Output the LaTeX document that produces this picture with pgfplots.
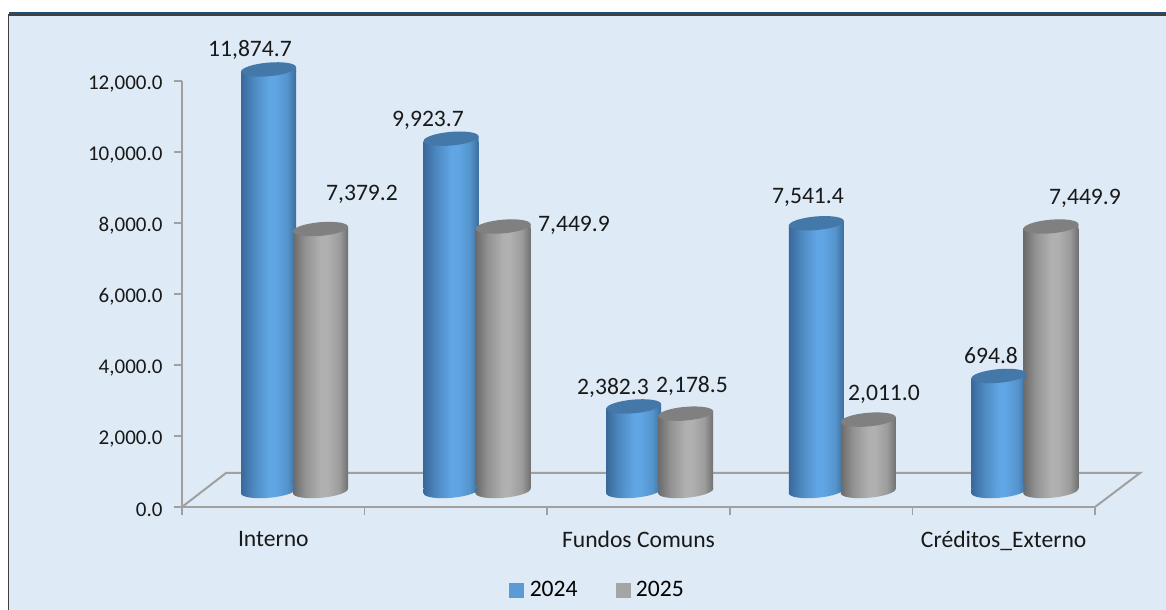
\documentclass[border=0pt]{standalone}
\usepackage{pgfplots}
\pgfplotsset{compat=1.18}
\usepackage{fontspec}
\setmainfont{Carlito}
\definecolor{panel}{HTML}{DEEAF6}
\definecolor{axisgray}{HTML}{A0A0A0}
\definecolor{swblue}{HTML}{5B9BD5}
\definecolor{swgray}{HTML}{A5A5A5}
\definecolor{topblue}{HTML}{4478A8}
\definecolor{topgray}{HTML}{808080}
\definecolor{b0}{HTML}{39689A}
\definecolor{b1}{HTML}{4C88BF}
\definecolor{b2}{HTML}{60A5E4}
\definecolor{b3}{HTML}{5594CC}
\definecolor{b4}{HTML}{3C6E9E}
\definecolor{g0}{HTML}{6B6B6B}
\definecolor{g1}{HTML}{929292}
\definecolor{g2}{HTML}{B0B0B0}
\definecolor{g3}{HTML}{9C9C9C}
\definecolor{g4}{HTML}{707070}
\pgfdeclarehorizontalshading{cylblue}{100bp}{color(0bp)=(b0); color(25bp)=(b0); color(36bp)=(b1); color(50bp)=(b2); color(56bp)=(b2); color(67bp)=(b3); color(75bp)=(b4); color(100bp)=(b4)}
\pgfdeclarehorizontalshading{cylgray}{100bp}{color(0bp)=(g0); color(25bp)=(g0); color(36bp)=(g1); color(50bp)=(g2); color(56bp)=(g2); color(67bp)=(g3); color(75bp)=(g4); color(100bp)=(g4)}
\newcommand{\cylell}{\pgfpathellipse{\pgfpointorigin}{\pgfqpoint{27.5bp}{2.4bp}}{\pgfqpoint{-0.6bp}{6.8bp}}}
% wedge under the tilted top rim
\newcommand{\cyltri}{\pgfpathmoveto{\pgfqpoint{-27.5bp}{-2.4bp}}\pgfpathlineto{\pgfqpoint{27.5bp}{-2.4bp}}\pgfpathlineto{\pgfqpoint{27.5bp}{2.4bp}}\pgfpathclose}
% wedge above the tilted bottom rim
\newcommand{\cyltrib}{\pgfpathmoveto{\pgfqpoint{-27.5bp}{-2.4bp}}\pgfpathlineto{\pgfqpoint{27.5bp}{2.4bp}}\pgfpathlineto{\pgfqpoint{-27.5bp}{2.4bp}}\pgfpathclose}
\pgfdeclareplotmark{topb}{\cyltri\pgfshadepath{cylblue}{0}\pgfusepath{discard}\cylell\pgfsetfillcolor{topblue}\pgfusepath{fill}}
\pgfdeclareplotmark{topg}{\cyltri\pgfshadepath{cylgray}{0}\pgfusepath{discard}\cylell\pgfsetfillcolor{topgray}\pgfusepath{fill}}
\pgfdeclareplotmark{botb}{\cylell\pgfshadepath{cylblue}{0}\pgfusepath{discard}\cyltrib\pgfshadepath{cylblue}{0}\pgfusepath{discard}}
\pgfdeclareplotmark{botg}{\cylell\pgfshadepath{cylgray}{0}\pgfusepath{discard}\cyltrib\pgfshadepath{cylgray}{0}\pgfusepath{discard}}
% one cylinder: shading, top mark, bottom mark, x, value, xshift
\newcommand{\cyl}[6]{%
\addplot[only marks,mark=#3,xshift=#6,yshift=16bp] coordinates {(#4,0)};
\addplot[ybar,bar width=55bp,bar shift=0pt,draw=none,shading=#1,xshift=#6,yshift=18.4bp,y filter/.expression={y-135.2}] coordinates {(#4,#5)};
\addplot[only marks,mark=#2,xshift=#6,yshift=16bp] coordinates {(#4,#5)};
}
\newcommand{\lab}[3]{\node[font=\fontsize{23.6bp}{26bp}\selectfont,text=black!90] at (#1bp,{(610-#2-1.5)*1bp}) {#3};}
\begin{document}
\begin{tikzpicture}[x=1bp,y=1bp]
\path[use as bounding box,fill=white] (0,0) rectangle (1166,610);
\fill[panel] (8,0) rectangle (1166,595);
\draw[color=black!75,line width=1.3bp] (8.7,0) -- (8.7,595);
\fill[color=black!75] (8,594.3) rectangle (1166,595.7);
\fill[color={rgb,255:red,31;green,78;blue,121}] (9,596) rectangle (1166,598.3);
\begin{axis}[at={(182bp,103bp)},anchor=south west,scale only axis,width=913bp,height=426bp,
  xmin=0,xmax=5,ymin=0,ymax=12000,clip=false,
  axis x line*=bottom,axis y line*=left,
  axis line style={draw=axisgray,line width=2bp,-},
  xtick={0.5,1.5,2.5,3.5,4.5},
  xticklabels={Interno,,Fundos Comuns,,Créditos\_Externo},
  minor xtick={0,1,2,3,4,5},
  major tick length=8bp,minor tick length=8bp,
  major x tick style={draw=none},
  minor x tick style={draw=axisgray,line width=1.5bp},
  ytick={0,2000,...,12000},
  major y tick style={draw=axisgray,line width=1.5bp},
  tick align=outside,
  /pgf/number format/assume math mode=true,
  /pgf/number format/fixed,/pgf/number format/fixed zerofill,/pgf/number format/precision=1,/pgf/number format/1000 sep={,},
  scaled y ticks=false,
  yticklabel style={font=\fontsize{21bp}{24bp}\selectfont,text=black!90,xshift=-8bp,yshift=-3bp},
  xticklabel style={font=\fontsize{23.6bp}{26bp}\selectfont,text=black!90,yshift=-13bp},
  legend style={at={(0.4552,-0.195)},anchor=center,draw=none,fill=none,font=\fontsize{23.6bp}{26bp}\selectfont,legend columns=2,
    /tikz/every even column/.append style={column sep=36bp},inner sep=0pt},
  legend image code/.code={\fill[#1] (0bp,-7bp) rectangle (14bp,7bp);\path (18bp,0bp);},
  ]
\addlegendimage{swblue}\addlegendentry{2024}
\addlegendimage{swgray}\addlegendentry{2025}
\draw[draw=axisgray,line width=2bp] (axis cs:0,0) -- (axis cs:0.241,958) -- (axis cs:5.246,958) -- (axis cs:5,0);
\cyl{cylblue}{topb}{botb}{0.5}{11874.7}{-4.8bp}
\cyl{cylgray}{topg}{botg}{0.5}{7379.2}{47.2bp}
\cyl{cylblue}{topb}{botb}{1.5}{9923.7}{-4.8bp}
\cyl{cylgray}{topg}{botg}{1.5}{7449.9}{47.2bp}
\cyl{cylblue}{topb}{botb}{2.5}{2382.3}{-4.8bp}
\cyl{cylgray}{topg}{botg}{2.5}{2178.5}{47.2bp}
\cyl{cylblue}{topb}{botb}{3.5}{7541.4}{-4.8bp}
\cyl{cylgray}{topg}{botg}{3.5}{2011.0}{47.2bp}
\cyl{cylblue}{topb}{botb}{4.5}{3240.0}{-4.8bp}
\cyl{cylgray}{topg}{botg}{4.5}{7449.9}{47.2bp}
\end{axis}
\lab{250}{48}{11,874.7}
\lab{362}{193}{7,379.2}
\lab{428}{119}{9,923.7}
\lab{574}{224}{7,449.9}
\lab{613}{386}{2,382.3}
\lab{692}{384}{2,178.5}
\lab{808}{196}{7,541.4}
\lab{884}{393}{2,011.0}
\lab{991}{354}{694.8}
\lab{1085}{197}{7,449.9}
\end{tikzpicture}
\end{document}
